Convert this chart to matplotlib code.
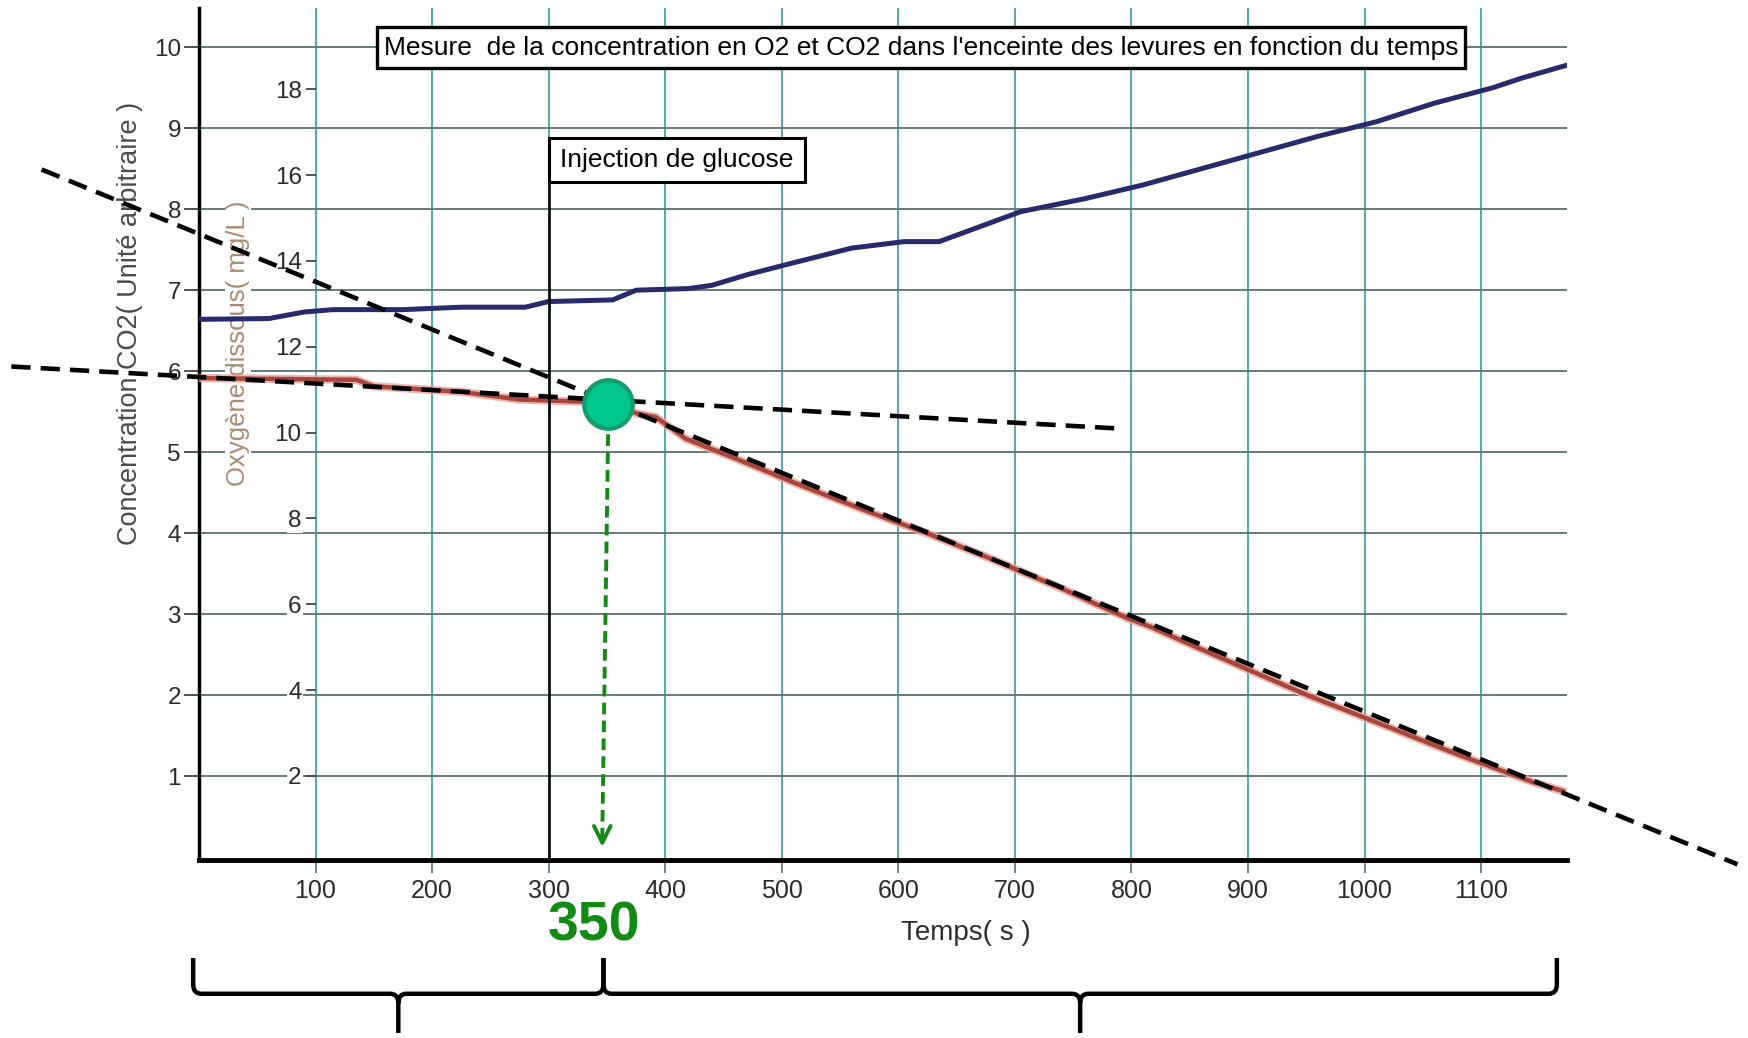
import matplotlib
matplotlib.use("Agg")
import matplotlib.pyplot as plt
from matplotlib.patches import Rectangle, PathPatch
from matplotlib.path import Path

plt.rcParams["font.family"] = ["Liberation Sans", "DejaVu Sans"]

# values
t_co2 = [0, 60, 90, 115, 175, 225, 280, 300, 355, 375, 420, 440, 470, 505,
         560, 605, 635, 705, 760, 810, 860, 910, 960, 1010, 1060, 1110, 1135, 1174]
co2 = [6.64, 6.65, 6.73, 6.76, 6.76, 6.79, 6.79, 6.86, 6.88, 7.00, 7.02, 7.06, 7.19, 7.32,
       7.52, 7.60, 7.60, 7.97, 8.13, 8.30, 8.50, 8.70, 8.90, 9.08, 9.31, 9.50, 9.62, 9.78]

t_o2 = [0, 135, 150, 225, 275, 330, 355, 375, 392, 418, 460, 510, 575, 625, 675,
        740, 797, 816, 860, 905, 953, 1013, 1078, 1144, 1170]
o2 = [11.27, 11.23, 11.08, 10.95, 10.77, 10.72, 10.70, 10.45, 10.36, 9.85, 9.40, 8.84, 8.15, 7.65, 7.11,
      6.37, 5.67, 5.48, 4.95, 4.42, 3.86, 3.22, 2.52, 1.86, 1.65]

x_ticks = list(range(100, 1200, 100))
co2_ticks = list(range(1, 11))
o2_ticks = list(range(2, 20, 2))

# hand drawn annotations (O2 units)
tangent1_t = [-161, 786]
tangent1_o2 = [11.54, 10.10]
tangent2_t = [-135, 1320]
tangent2_o2 = [16.13, -0.06]
cross_t, cross_o2 = 351, 10.67
arrow_t = [351, 346]
arrow_o2 = [9.96, 0.28]
glucose_t = 300
brace_edges = [-5, 347, 1165]

green = "#138a13"

fig = plt.figure(figsize=(17.49, 10.38), dpi=100)
ax = fig.add_axes([199 / 1749, 178 / 1038, 1368 / 1749, 852 / 1038])
ax.set_xlim(0, 1173.7)
ax.set_ylim(-0.037, 10.485)
ax2 = ax.twinx()
ax2.set_ylim(0.042, 19.893)

for s in ["top", "right"]:
    ax.spines[s].set_visible(False)
for s in ax2.spines.values():
    s.set_visible(False)
ax.spines["left"].set_linewidth(2.5)
ax.spines["bottom"].set_linewidth(3.5)

ax.set_xticks(x_ticks)
ax.set_yticks(co2_ticks)
ax.xaxis.grid(True, color="#45a3a7", lw=1.3)
ax.yaxis.grid(True, color="#627c77", lw=1.4)
ax.set_axisbelow(True)
ax.tick_params(axis="x", length=9, width=1.3, color="#5d7f80", labelsize=18,
               pad=5, labelcolor="#2a2a2a")
ax.tick_params(axis="y", length=11, width=1.3, color="#444444", labelsize=17.5,
               pad=2, labelcolor="#2a2a2a")
ax.set_xlabel("Temps( s )", fontsize=20, color="#2e2e2e")
ax.xaxis.set_label_coords((966 - 199) / 1368, -0.0700)
ax.set_ylabel("Concentration CO2( Unité arbitraire )", fontsize=19.5, color="#4a4a4a")
ax.yaxis.set_label_coords(-0.041, 0.630)

# O2 axis sits on the t=100 grid line
ax2.yaxis.tick_left()
ax2.yaxis.set_label_position("left")
ax2.spines["left"].set_position(("axes", 100 / 1173.7))
ax2.set_yticks(o2_ticks)
ax2.tick_params(axis="y", left=True, labelleft=True, right=False, labelright=False,
                length=7, width=1.3, color="#444444", labelsize=17.5, pad=3,
                labelcolor="#2a2a2a")
for lab in ax2.get_yticklabels():
    lab.set_bbox(dict(facecolor="white", edgecolor="none", pad=1))
ax2.set_ylabel("Oxygène dissous( mg/L )", fontsize=18.5, color="#a88c72",
               bbox=dict(facecolor="white", edgecolor="none", pad=1))
ax2.yaxis.set_label_coords(0.0373, 0.607)

# curves
ax2.plot(t_co2, co2, color="#272b6c", lw=3.6, transform=ax.transData, zorder=3)
ax2.plot(t_o2, o2, color="#eaa59b", lw=6, zorder=3, alpha=0.8)
ax2.plot(t_o2, o2, color="#a8463e", lw=3.2, zorder=3)

# glucose injection marker
xt = ax2.get_xaxis_transform()
ax2.axvline(glucose_t, ymax=0.847, color="#111111", lw=2, zorder=4)
ax2.add_patch(Rectangle((glucose_t, 0.7958), 220, 0.0516, transform=xt,
                        facecolor="white", edgecolor="black", lw=2.2, zorder=5))
ax2.text(glucose_t + 110, 0.8216, "Injection de glucose", transform=xt,
         ha="center", va="center", fontsize=19, zorder=6)

# tangents
for tt, oo in [(tangent1_t, tangent1_o2), (tangent2_t, tangent2_o2)]:
    ax2.plot(tt, oo, color="black", lw=3.3, dashes=(4.2, 2.2), clip_on=False, zorder=7)

# arrow down to the time axis
ax2.plot([arrow_t[0], arrow_t[1]], [arrow_o2[0], 0.6], color=green, lw=2.8,
         dashes=(3, 1.6), zorder=6)
ax2.annotate("", xy=(arrow_t[1], arrow_o2[1]), xytext=(arrow_t[1], 0.65),
             arrowprops=dict(arrowstyle="->", color=green, lw=2.8, mutation_scale=30),
             zorder=6)
ax2.plot(cross_t, cross_o2, "o", ms=35, mfc="#00c58d", mec="#169c6c", mew=3, zorder=8)

ax2.text(338.5, -0.0775, "350", transform=xt, ha="center", va="center",
         fontsize=40, fontweight="bold", color=green)


# braces under the axis
def brace(x0, x1, ytop=-0.115, ybar=-0.157, ytip=-0.203, rx=7, ry=0.011):
    xm = (x0 + x1) / 2
    M, L, C = Path.MOVETO, Path.LINETO, Path.CURVE3
    verts = [(x0, ytop), (x0, ybar + ry), (x0, ybar), (x0 + rx, ybar),
             (xm - rx, ybar), (xm, ybar), (xm, ybar - ry), (xm, ytip),
             (x1, ytop), (x1, ybar + ry), (x1, ybar), (x1 - rx, ybar),
             (xm + rx, ybar), (xm, ybar), (xm, ybar - ry)]
    codes = [M, L, C, C, L, C, C, L, M, L, C, C, L, C, C]
    p = PathPatch(Path(verts, codes), transform=xt, fill=False, lw=3.2,
                  edgecolor="black", clip_on=False, joinstyle="round")
    ax2.add_patch(p)


brace(brace_edges[0], brace_edges[1])
brace(brace_edges[1], brace_edges[2])

# title box
fig.add_artist(Rectangle((377 / 1749, 1 - 68 / 1038), 1088 / 1749, 41 / 1038,
                         transform=fig.transFigure, facecolor="white",
                         edgecolor="black", lw=2.4))
fig.text(921 / 1749, 1 - 47.5 / 1038,
         "Mesure  de la concentration en O2 et CO2 dans l'enceinte des levures en fonction du temps",
         ha="center", va="center", fontsize=19)

fig.savefig("out.png", dpi=100)
